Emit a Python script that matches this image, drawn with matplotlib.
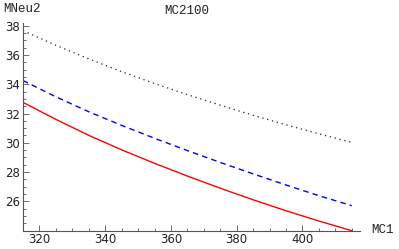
import matplotlib
matplotlib.use("Agg")
import matplotlib.pyplot as plt
from matplotlib.ticker import MultipleLocator

# values
mc1 = [315, 325, 335, 345, 355, 365, 375, 385, 395, 405, 415]
mneu2_dotted = [37.66, 36.66, 35.73, 34.86, 34.05, 33.29, 32.57, 31.88, 31.23, 30.61, 30.03]
mneu2_dashed = [34.25, 33.14, 32.12, 31.19, 30.31, 29.47, 28.66, 27.88, 27.12, 26.39, 25.71]
mneu2_solid = [32.76, 31.60, 30.51, 29.52, 28.60, 27.73, 26.90, 26.11, 25.36, 24.66, 24.00]

x_ticks = [320, 340, 360, 380, 400]
y_ticks = [26, 28, 30, 32, 34, 36, 38]

fig = plt.figure(figsize=(3.99, 2.49), dpi=100)
ax = fig.add_axes([23 / 399, 18.3 / 249, 337 / 399, 207.7 / 249])

ax.plot(mc1, mneu2_dotted, color="#222222", lw=0.9, linestyle=(0, (1, 3)))
ax.plot(mc1, mneu2_dashed, color="#0000ff", lw=1.0, linestyle=(0, (4, 3)))
ax.plot(mc1, mneu2_solid, color="#ff0000", lw=1.0)

ax.set_xlim(315, 417.5)
ax.set_ylim(24, 38.18)

for s in ["top", "right"]:
    ax.spines[s].set_visible(False)
for s in ["left", "bottom"]:
    ax.spines[s].set_color("#555555")
    ax.spines[s].set_linewidth(0.8)

ax.set_xticks(x_ticks)
ax.set_yticks(y_ticks)
ax.xaxis.set_minor_locator(MultipleLocator(5))
ax.yaxis.set_minor_locator(MultipleLocator(0.5))
ax.tick_params(which="both", direction="in", color="#555555", width=0.6,
               labelsize=8.5, labelcolor="#222222", pad=2)
ax.tick_params(which="major", length=4)
ax.tick_params(which="minor", length=2)
ax.tick_params(axis="x", pad=1.5)

mono = "Liberation Mono"
fig.text(3 / 399, 1 - 9 / 249, "MNeu2", family=mono, fontsize=9, color="#222222", va="center", ha="left")
fig.text(187 / 399, 1 - 11 / 249, "MC2100", family=mono, fontsize=9, color="#222222", va="center", ha="center")
fig.text(371 / 399, 1 - 230 / 249, "MC1", family=mono, fontsize=9, color="#222222", va="center", ha="left")

fig.savefig("out.png", dpi=100)
